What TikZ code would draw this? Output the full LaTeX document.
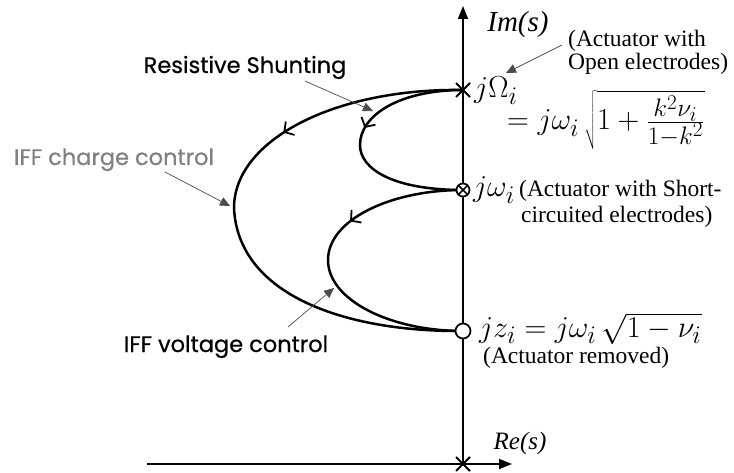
\documentclass[tikz,border=0pt]{standalone}
\usepackage{fontspec}
\setmainfont{Liberation Serif}
\newfontfamily\comicfont{Poppins}[FakeBold=0.6]
\usetikzlibrary{arrows.meta,decorations.markings,calc}
\begin{document}
\begin{tikzpicture}[x=1pt,y=-1pt,
  axis/.style={line width=1.8pt,-{Triangle[length=13pt,width=10pt]}},
  locus/.style={line width=2.5pt},
  midarrow/.style={postaction={decorate},decoration={markings,
     mark=at position #1 with {\arrow{Straight Barb[length=7pt,width=16pt,line width=1.8pt]}}}},
  note/.style={draw=black!70,line width=0.7pt,-{Triangle[length=10pt,width=9pt]}},
  lab/.style={inner sep=0pt,anchor=base west},
  txt/.style={lab,font=\fontsize{23.5}{25}\selectfont},
  mth/.style={lab,font=\fontsize{24.88}{28}\selectfont,scale=1.22},
  comic/.style={inner sep=0pt,anchor=base,font=\comicfont\fontsize{22.5}{24}\selectfont},
  markline/.style={line width=1.9pt}
]
\useasboundingbox (0,0) rectangle (734,473);

% axes
\coordinate (O) at (463,464);
\coordinate (Xl) at (147,464);
\coordinate (Xr) at (512,464);
\coordinate (Yt) at (463,6);
\draw[axis] (Xl) -- (Xr);
\draw[axis] (O) -- (Yt);

% poles / zeros
\coordinate (A) at (463,90);
\coordinate (B) at (463,190);
\coordinate (C) at (463,331);

% loci
\draw[locus,midarrow=0.33] (A) .. controls (335,88) and (234,140) .. (234,208)
   .. controls (238,295) and (345,332) .. (C);
\draw[locus,midarrow=0.44] (A) .. controls (400,90) and (360,115) .. (360,145)
   .. controls (360,170) and (395,190) .. (B);
\draw[locus,midarrow=0.36] (B) .. controls (390,190) and (328,220) .. (328,260)
   .. controls (328,300) and (390,331) .. (C);

% markers
\draw[markline] ($(A)+(-7,-7)$) -- ($(A)+(7,7)$) ($(A)+(-7,7)$) -- ($(A)+(7,-7)$);
\draw[markline] ($(O)+(-7,-7)$) -- ($(O)+(7,7)$) ($(O)+(-7,7)$) -- ($(O)+(7,-7)$);
\draw[line width=1.7pt,fill=white] (B) circle (6.5pt);
\draw[line width=1.6pt] ($(B)+(-4.6,-4.6)$) -- ($(B)+(4.6,4.6)$) ($(B)+(-4.6,4.6)$) -- ($(B)+(4.6,-4.6)$);
\draw[line width=1.7pt,fill=white] (C) circle (7.5pt);

% axis labels
\node[inner sep=0pt,font=\itshape\fontsize{29}{31}\selectfont] (im) at (518,25) {Im(s)};
\node[inner sep=0pt,font=\itshape\fontsize{25}{27}\selectfont] (re) at (520,443) {Re(s)};

% right labels
\node[txt] (open1) at (568,47) {(Actuator with};
\node[txt] (open2) at (568,70) {Open electrodes)};
\node[mth] (Wlab) at (474,98) {$j\Omega_i$};
\node[mth] (Weq) at (507,130) {$= j\omega_i\,\sqrt{1+\frac{k^2\nu_i}{1-k^2}}$};
\node[mth] (wlab) at (473,197) {$j\omega_i$};
\node[txt] (short1) at (519,197) {(Actuator with Short-};
\node[txt] (short2) at (521,223) {circuited electrodes)};
\node[mth] (zlab) at (479,337) {$jz_i = j\omega_i\,\sqrt{1-\nu_i}$};
\node[txt] (rem) at (483,363) {(Actuator removed)};

% comic labels
\node[comic] (shunt) at (245,73) {Resistive Shunting};
\node[comic,text=black!50] (charge) at (114,165) {IFF charge control};
\node[comic] (volt) at (226,352) {IFF voltage control};

% annotation arrows
\coordinate (shS) at (305,81);
\coordinate (shE) at (373,111);
\coordinate (chS) at (165,172);
\coordinate (chE) at (230,206);
\coordinate (voS) at (288,327);
\coordinate (voE) at (334,288);
\coordinate (opS) at (562,45);
\coordinate (opE) at (506,73);
\draw[note] (shS) -- (shE);
\draw[note] (chS) -- (chE);
\draw[note] (voS) -- (voE);
\draw[note] (opS) -- (opE);
\end{tikzpicture}
\end{document}
